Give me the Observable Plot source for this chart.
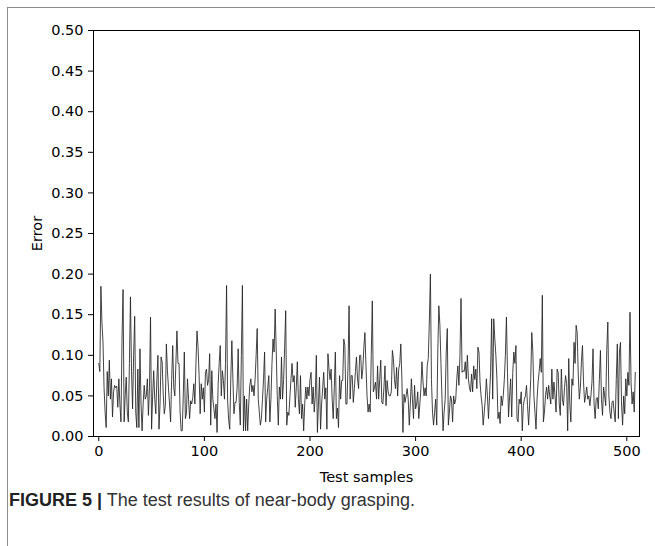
<!DOCTYPE html>
<html><head><meta charset="utf-8">
<script src="https://cdn.jsdelivr.net/npm/d3@7"></script>
<script src="https://cdn.jsdelivr.net/npm/@observablehq/plot@0.6"></script>
<style>
html,body{margin:0;padding:0;background:#fff;}
#fig{position:relative;width:655px;height:546px;overflow:hidden;background:#fff;}
#frame{position:absolute;left:7px;top:7px;width:660px;height:560px;border-left:1.5px solid #8c8c8c;border-top:1.5px solid #8c8c8c;}
#chart{position:absolute;left:0;top:0;}
#caption{position:absolute;left:9px;top:490px;line-height:20px;font-family:"Liberation Sans",Arial,sans-serif;font-size:18px;color:#333;white-space:nowrap;}
#caption b{color:#222;}
</style></head>
<body>
<div id="fig">
  <div id="frame"></div>
  <div id="chart"></div>
  <div id="caption"><b>FIGURE 5 |</b> The test results of near-body grasping.</div>
</div>
<script>
const errors = [
0.09,0.08,0.185,0.14,0.116,0.06,0.03,0.011,0.08,0.05,
0.094,0.046,0.071,0.024,0.055,0.063,0.06,0.062,0.036,0.071,
0.04,0.018,0.12,0.181,0.018,0.05,0.073,0.03,0.018,0.09,
0.172,0.08,0.034,0.1,0.148,0.03,0.011,0.083,0.011,0.108,
0.04,0.007,0.04,0.063,0.046,0.05,0.071,0.026,0.06,
0.147,0.009,0.05,0.081,0.046,0.028,0.07,0.1,0.009,0.04,
0.098,0.092,0.053,0.028,0.038,0.114,0.081,0.06,0.04,0.018,
0.07,0.112,0.06,0.05,0.09,0.13,0.09,0.09,0.03,0.007,
0.007,0.05,0.104,0.022,0.028,0.071,0.046,0.022,0.044,0.04,
0.048,0.065,0.04,0.09,0.13,0.11,0.075,0.028,0.065,0.046,
0.06,0.03,
0.079,0.083,0.063,0.07,0.102,0.014,0.081,0.046,0.034,0.022,
0.04,0.005,0.063,0.09,0.112,0.05,0.081,0.069,0.046,0.09,
0.186,0.044,0.02,0.009,0.071,0.118,0.071,0.028,0.042,0.042,
0.06,0.108,0.042,0.014,0.1,0.186,0.007,0.05,0.007,0.046,
0.007,0.04,0.063,0.071,0.055,0.063,0.05,0.07,0.1,0.133,
0.046,0.03,
0.014,0.022,0.046,0.07,0.104,0.018,0.046,0.06,0.075,0.018,
0.046,0.09,0.12,0.104,0.157,0.106,0.05,0.014,0.061,0.046,
0.098,0.046,0.07,0.11,0.155,0.014,0.03,0.026,0.05,0.071,
0.09,0.067,0.075,0.036,0.06,0.092,0.046,0.028,0.075,0.022,
0.04,0.007,0.04,0.061,0.046,0.061,0.05,0.07,0.079,0.04,
0.061,0.03,
0.05,0.1,0.005,0.04,0.073,0.009,0.04,0.06,0.079,0.046,
0.06,0.009,0.102,0.083,0.07,0.083,0.046,0.022,0.06,0.104,
0.022,0.035,0.011,0.075,0.046,0.069,0.069,0.12,0.112,0.04,
0.04,0.087,0.161,0.046,0.075,0.075,0.042,0.059,0.08,0.098,
0.071,0.059,0.1,0.1,0.071,0.083,0.11,0.128,0.087,0.05,
0.03,0.04,
0.03,0.1,0.167,0.055,0.06,0.067,0.046,0.087,0.046,0.07,
0.094,0.042,0.04,0.06,0.087,0.038,0.069,0.055,0.05,0.05,
0.055,0.106,0.096,0.07,0.059,0.085,0.05,0.083,0.09,0.114,
0.071,0.005,0.052,0.042,0.05,0.059,0.046,0.014,0.04,0.071,
0.046,0.022,0.063,0.034,0.04,0.055,0.022,0.04,0.059,0.092,
0.067,0.05,
0.06,0.05,0.087,0.096,0.141,0.2,0.07,0.03,0.014,0.03,
0.046,0.014,0.104,0.161,0.137,0.09,0.046,0.007,0.03,0.046,
0.104,0.133,0.014,0.03,0.05,0.046,0.018,0.05,0.04,0.046,
0.071,0.087,0.063,0.1,0.17,0.079,0.081,0.08,0.092,0.071,
0.1,0.071,0.06,0.055,0.077,0.055,0.087,0.07,0.083,0.059,
0.11,0.104,
0.067,0.05,0.038,0.014,0.03,0.046,0.071,0.05,0.022,0.05,
0.079,0.145,0.046,0.145,0.12,0.1,0.071,0.022,0.03,0.016,
0.05,0.038,0.05,0.07,0.1,0.147,0.079,0.024,0.05,0.071,
0.024,0.079,0.104,0.09,0.112,0.022,0.018,0.046,0.04,0.055,
0.007,0.038,0.046,0.05,0.063,0.038,0.014,0.04,0.071,0.128,
0.104,0.05,
0.03,0.009,0.046,0.067,0.08,0.096,0.079,0.174,0.018,0.03,
0.05,0.061,0.046,0.063,0.05,0.04,0.083,0.046,0.067,0.05,
0.03,0.083,0.079,0.04,0.026,0.083,0.046,0.038,0.06,0.075,
0.065,0.007,0.096,0.04,0.018,0.071,0.063,0.116,0.09,0.137,
0.128,0.077,0.046,0.06,0.092,0.112,0.067,0.042,0.05,0.061,
0.046,0.05,
0.038,0.05,0.067,0.108,0.04,0.022,0.046,0.048,0.034,0.07,
0.106,0.046,0.026,0.061,0.05,0.038,0.106,0.141,0.05,0.03,
0.022,0.042,0.044,0.03,0.018,0.07,0.114,0.022,0.104,0.116,
0.04,0.014,0.05,0.028,0.071,0.05,0.079,0.063,0.153,0.067,
0.04,0.055,0.03,0.079
];
const xTicks = [0, 100, 200, 300, 400, 500];
const yTicks = [0, 0.05, 0.10, 0.15, 0.20, 0.25, 0.30, 0.35, 0.40, 0.45, 0.50];
const xTitle = "Test samples";
const yTitle = "Error";

const data = errors.map((v, i) => ({sample: i, error: v}));
const H = 490;
const chart = Plot.plot({
  width: 655, height: H,
  marginLeft: 93, marginRight: 16, marginTop: 30, marginBottom: H - 436,
  x: {domain: [-5, 512]},
  y: {domain: [0, 0.5]},
  style: {fontFamily: "'DejaVu Sans', sans-serif", fontSize: "14.5px", color: "black", background: "transparent", overflow: "visible"},
  marks: [
    Plot.axisY({ticks: yTicks, tickFormat: d3.format(".2f"), tickSize: 5, tickPadding: 5, label: yTitle, labelAnchor: "center", labelArrow: "none", labelOffset: 62, fontSize: 14.5}),
    Plot.axisX({ticks: xTicks, tickFormat: d => String(d), tickSize: 5, tickPadding: 4, label: xTitle, labelAnchor: "center", labelArrow: "none", labelOffset: 45, fontSize: 14.5}),
    Plot.line(data, {x: "sample", y: "error", stroke: "#222", strokeWidth: 0.85}),
    Plot.frame({stroke: "black", strokeWidth: 1})
  ]
});
document.getElementById("chart").appendChild(chart);
</script>
</body></html>
